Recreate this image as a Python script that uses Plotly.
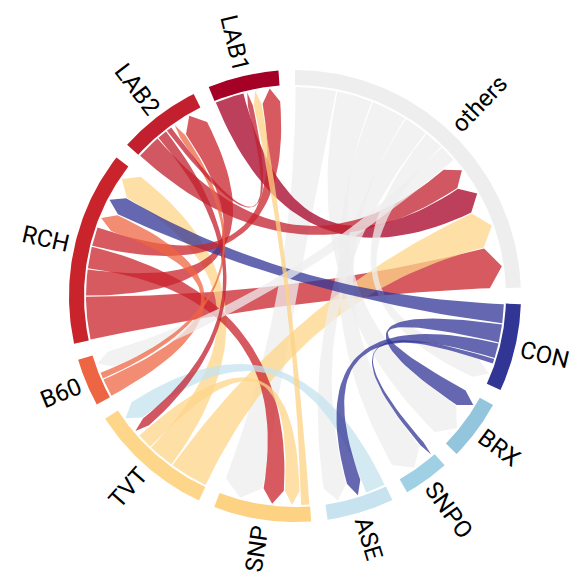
import numpy as np
import plotly.graph_objects as go

# groups, clockwise from 12 o'clock
names = ["others", "CON", "BRX", "SNPO", "ASE", "SNP", "TVT", "B60", "RCH", "LAB2", "LAB1"]
colors = ["#eeeeee", "#313695", "#93c5dd", "#a0d0e3", "#c6e3ef", "#fdd283",
          "#fdd689", "#ed6543", "#c9232b", "#c2202e", "#a50026"]

# directed flows (source -> target)
sources = ["others", "others", "others", "others", "others", "others",
           "CON", "CON", "CON", "CON",
           "ASE", "SNP",
           "TVT", "TVT", "TVT",
           "B60", "B60",
           "RCH", "RCH", "RCH", "RCH",
           "LAB2", "LAB2", "LAB2",
           "LAB1"]
targets = ["SNP", "BRX", "SNPO", "ASE", "CON", "B60",
           "RCH", "BRX", "ASE", "SNPO",
           "TVT", "LAB1",
           "others", "RCH", "SNP",
           "RCH", "LAB2",
           "others", "LAB2", "SNP", "LAB1",
           "others", "TVT", "LAB1",
           "others"]
values = [11.5, 10.2, 10.1, 7.0, 5.6, 5.0,
          5.6, 5.3, 4.4, 1.6,
          5.8, 2.6,
          10.9, 7.6, 4.6,
          5.3, 2.0,
          12.1, 7.5, 6.3, 5.5,
          7.0, 3.0, 1.8,
          8.3]

inner_r, outer_r = 211, 226
rib_r, head_r = 209, 14
pad = np.radians(4.2)
rib_pad = 1.2 / rib_r


def hex_rgba(h, a):
    h = h.lstrip("#")
    return "rgba(%d,%d,%d,%s)" % (int(h[0:2], 16), int(h[2:4], 16), int(h[4:6], 16), a)


def pt(r, a):
    return r * np.sin(a), r * np.cos(a)


def quad(p0, p2, m=40):
    t = np.linspace(0, 1, m)
    xs = (1 - t) ** 2 * p0[0] + t ** 2 * p2[0]
    ys = (1 - t) ** 2 * p0[1] + t ** 2 * p2[1]
    return list(xs), list(ys)


# chord layout, directed, subgroups sorted descending
n = len(names)
M = np.zeros((n, n))
for s, t, v in zip(sources, targets, values):
    M[names.index(s), names.index(t)] = v
k = (2 * np.pi - n * pad) / (M.sum(1) + M.sum(0)).sum()

src_ang, tgt_ang, groups = {}, {}, []
x = 0.0
for i in range(n):
    x0 = x
    sub = [j for j in range(-n, n) if (M[~j, i] if j < 0 else M[i, j]) > 0]
    sub.sort(key=lambda j: -M[~j, i] if j < 0 else M[i, j], reverse=True)
    for j in sub:
        if j < 0:
            v = M[~j, i] * k
            tgt_ang[(~j, i)] = (x, x + v)
        else:
            v = M[i, j] * k
            src_ang[(i, j)] = (x, x + v)
        x += v
    groups.append((x0, x))
    x += pad

fig = go.Figure()

# ribbons, biggest first
order = sorted(src_ang.keys(), key=lambda key: M[key], reverse=True)
for (i, j) in order:
    sa0, sa1 = src_ang[(i, j)]
    ta0, ta1 = tgt_ang[(i, j)]
    ap = rib_pad / 2
    if sa1 - sa0 > 2 * ap:
        sa0, sa1 = sa0 + ap, sa1 - ap
    else:
        sa0 = sa1 = (sa0 + sa1) / 2
    if ta1 - ta0 > 2 * ap:
        ta0, ta1 = ta0 + ap, ta1 - ap
    else:
        ta0 = ta1 = (ta0 + ta1) / 2
    aa = np.linspace(sa0, sa1, 12)
    xs = list(rib_r * np.sin(aa))
    ys = list(rib_r * np.cos(aa))
    tr2 = rib_r - head_r
    qx, qy = quad(pt(rib_r, sa1), pt(tr2, ta0))
    xs += qx; ys += qy
    tip = pt(rib_r, (ta0 + ta1) / 2)
    e = pt(tr2, ta1)
    xs += [tip[0], e[0]]; ys += [tip[1], e[1]]
    qx, qy = quad(e, pt(rib_r, sa0))
    xs += qx; ys += qy
    fig.add_trace(go.Scatter(x=xs, y=ys, mode="lines", fill="toself",
                             fillcolor=hex_rgba(colors[i], 0.75),
                             line=dict(width=0), hoverinfo="skip"))

# outer ring arcs
for (a0, a1), c in zip(groups, colors):
    aa = np.linspace(a0, a1, 60)
    xs = list(outer_r * np.sin(aa)) + list(inner_r * np.sin(aa[::-1]))
    ys = list(outer_r * np.cos(aa)) + list(inner_r * np.cos(aa[::-1]))
    fig.add_trace(go.Scatter(x=xs, y=ys, mode="lines", fill="toself",
                             fillcolor=c, line=dict(width=0), hoverinfo="skip"))

# labels
fs = 24
cw = {"L": .539, "A": .652, "B": .622, "1": .561, "2": .561, "R": .616, "C": .652,
      "H": .713, "6": .561, "0": .561, "T": .611, "V": .636, "S": .593, "N": .713,
      "P": .631, "E": .568, "O": .688, "X": .627, "o": .570, "t": .327, "h": .551,
      "e": .530, "r": .338, "s": .516}
for name, (a0, a1) in zip(names, groups):
    mid = (a0 + a1) / 2
    w = sum(cw.get(ch, .56) for ch in name) * fs
    lx, ly = pt(outer_r + 6 + w / 2, mid)
    deg = np.degrees(mid)
    ang = deg - 90 if deg < 180 else deg - 270
    fig.add_annotation(x=lx, y=ly, text=name, showarrow=False, textangle=ang,
                       xanchor="center", yanchor="middle",
                       font=dict(family="Roboto", size=fs, color="#000000"))

# the page body has an 8px margin, so the centre sits at (287, 288) in the div
fig.update_layout(width=580, height=580, margin=dict(l=0, r=0, t=0, b=0),
                  paper_bgcolor="white", plot_bgcolor="white", showlegend=False,
                  xaxis=dict(range=[-287, 293], visible=False, fixedrange=True),
                  yaxis=dict(range=[-292, 288], visible=False, fixedrange=True))
fig.write_html("out.html")
